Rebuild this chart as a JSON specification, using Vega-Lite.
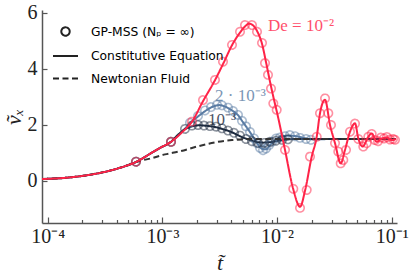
{
"$schema": "https://vega.github.io/schema/vega-lite/v6.json",
"width": 355, "height": 213, "autosize": "none",
"padding": {"left": 42, "top": 10, "right": 19, "bottom": 53},
"background": "white",
"config": {
  "view": {"stroke": null},
  "axis": {"grid": false, "domainColor": "#555", "domainWidth": 1.5, "tickColor": "#555", "tickWidth": 1.2,
           "labelFont": "Liberation Serif", "labelFontSize": 20, "labelColor": "#222",
           "titleFont": "Liberation Serif", "titleFontStyle": "italic", "titleFontWeight": "normal", "titleFontSize": 22, "titleColor": "#222"}
},
"datasets": {
  "lines": [
    {"series": "1e-2", "t": 8.92e-5, "v": 0.07}, {"series": "1e-2", "t": 1.28e-4, "v": 0.10}, {"series": "1e-2", "t": 1.912e-4, "v": 0.17},
    {"series": "1e-2", "t": 2.858e-4, "v": 0.29}, {"series": "1e-2", "t": 3.862e-4, "v": 0.42}, {"series": "1e-2", "t": 4.72e-4, "v": 0.53},
    {"series": "1e-2", "t": 5.886e-4, "v": 0.68}, {"series": "1e-2", "t": 7.8e-4, "v": 0.97}, {"series": "1e-2", "t": 9.53e-4, "v": 1.18},
    {"series": "1e-2", "t": 1.189e-3, "v": 1.40}, {"series": "1e-2", "t": 1.482e-3, "v": 1.74}, {"series": "1e-2", "t": 1.812e-3, "v": 2.12},
    {"series": "1e-2", "t": 2.259e-3, "v": 2.85}, {"series": "1e-2", "t": 2.874e-3, "v": 3.6}, {"series": "1e-2", "t": 3.444e-3, "v": 4.25},
    {"series": "1e-2", "t": 4.044e-3, "v": 4.85}, {"series": "1e-2", "t": 4.75e-3, "v": 5.3}, {"series": "1e-2", "t": 5.25e-3, "v": 5.52},
    {"series": "1e-2", "t": 5.69e-3, "v": 5.62}, {"series": "1e-2", "t": 6.165e-3, "v": 5.56}, {"series": "1e-2", "t": 6.68e-3, "v": 5.36},
    {"series": "1e-2", "t": 7.387e-3, "v": 4.9}, {"series": "1e-2", "t": 8.0e-3, "v": 4.25}, {"series": "1e-2", "t": 8.67e-3, "v": 3.55},
    {"series": "1e-2", "t": 9.4e-3, "v": 2.9}, {"series": "1e-2", "t": 9.98e-3, "v": 2.45}, {"series": "1e-2", "t": 1.172e-2, "v": 1.11},
    {"series": "1e-2", "t": 1.376e-2, "v": -0.26}, {"series": "1e-2", "t": 1.587e-2, "v": -0.92}, {"series": "1e-2", "t": 1.751e-2, "v": -0.35},
    {"series": "1e-2", "t": 2.003e-2, "v": 0.87}, {"series": "1e-2", "t": 2.215e-2, "v": 1.58}, {"series": "1e-2", "t": 2.366e-2, "v": 2.42},
    {"series": "1e-2", "t": 2.617e-2, "v": 2.9}, {"series": "1e-2", "t": 2.893e-2, "v": 2.0}, {"series": "1e-2", "t": 3.198e-2, "v": 1.35},
    {"series": "1e-2", "t": 3.585e-2, "v": 0.63}, {"series": "1e-2", "t": 3.908e-2, "v": 1.11}, {"series": "1e-2", "t": 4.321e-2, "v": 1.76},
    {"series": "1e-2", "t": 4.777e-2, "v": 2.06}, {"series": "1e-2", "t": 5.105e-2, "v": 1.52}, {"series": "1e-2", "t": 5.576e-2, "v": 1.23},
    {"series": "1e-2", "t": 6.24e-2, "v": 1.58}, {"series": "1e-2", "t": 6.68e-2, "v": 1.70}, {"series": "1e-2", "t": 7.387e-2, "v": 1.40},
    {"series": "1e-2", "t": 8.17e-2, "v": 1.52}, {"series": "1e-2", "t": 9.03e-2, "v": 1.55}, {"series": "1e-2", "t": 9.98e-2, "v": 1.46},
    {"series": "1e-2", "t": 0.1088, "v": 1.50},

    {"series": "2e-3", "t": 8.92e-5, "v": 0.07}, {"series": "2e-3", "t": 1.28e-4, "v": 0.10}, {"series": "2e-3", "t": 1.912e-4, "v": 0.17},
    {"series": "2e-3", "t": 2.858e-4, "v": 0.29}, {"series": "2e-3", "t": 3.862e-4, "v": 0.42}, {"series": "2e-3", "t": 4.72e-4, "v": 0.53},
    {"series": "2e-3", "t": 5.886e-4, "v": 0.68}, {"series": "2e-3", "t": 7.8e-4, "v": 0.97}, {"series": "2e-3", "t": 9.53e-4, "v": 1.18},
    {"series": "2e-3", "t": 1.189e-3, "v": 1.40}, {"series": "2e-3", "t": 1.423e-3, "v": 1.68}, {"series": "2e-3", "t": 1.74e-3, "v": 2.06},
    {"series": "2e-3", "t": 2.127e-3, "v": 2.36}, {"series": "2e-3", "t": 2.448e-3, "v": 2.54}, {"series": "2e-3", "t": 2.761e-3, "v": 2.66},
    {"series": "2e-3", "t": 3.115e-3, "v": 2.71}, {"series": "2e-3", "t": 3.514e-3, "v": 2.66}, {"series": "2e-3", "t": 4.044e-3, "v": 2.52},
    {"series": "2e-3", "t": 4.562e-3, "v": 2.35}, {"series": "2e-3", "t": 5.043e-3, "v": 2.10}, {"series": "2e-3", "t": 5.575e-3, "v": 1.85},
    {"series": "2e-3", "t": 6.165e-3, "v": 1.58}, {"series": "2e-3", "t": 6.815e-3, "v": 1.30}, {"series": "2e-3", "t": 7.387e-3, "v": 1.15},
    {"series": "2e-3", "t": 8.0e-3, "v": 1.13}, {"series": "2e-3", "t": 8.67e-3, "v": 1.28}, {"series": "2e-3", "t": 9.587e-3, "v": 1.46},
    {"series": "2e-3", "t": 1.081e-2, "v": 1.57}, {"series": "2e-3", "t": 1.245e-2, "v": 1.62}, {"series": "2e-3", "t": 1.462e-2, "v": 1.60},
    {"series": "2e-3", "t": 1.751e-2, "v": 1.53}, {"series": "2e-3", "t": 2.14e-2, "v": 1.48}, {"series": "2e-3", "t": 2.893e-2, "v": 1.50},
    {"series": "2e-3", "t": 0.1088, "v": 1.50},

    {"series": "1e-3", "t": 8.92e-5, "v": 0.07}, {"series": "1e-3", "t": 1.28e-4, "v": 0.10}, {"series": "1e-3", "t": 1.912e-4, "v": 0.17},
    {"series": "1e-3", "t": 2.858e-4, "v": 0.29}, {"series": "1e-3", "t": 3.862e-4, "v": 0.42}, {"series": "1e-3", "t": 4.72e-4, "v": 0.53},
    {"series": "1e-3", "t": 5.886e-4, "v": 0.68}, {"series": "1e-3", "t": 7.8e-4, "v": 0.97}, {"series": "1e-3", "t": 9.53e-4, "v": 1.18},
    {"series": "1e-3", "t": 1.189e-3, "v": 1.40}, {"series": "1e-3", "t": 1.368e-3, "v": 1.65}, {"series": "1e-3", "t": 1.574e-3, "v": 1.85},
    {"series": "1e-3", "t": 1.812e-3, "v": 1.95}, {"series": "1e-3", "t": 2.085e-3, "v": 1.99}, {"series": "1e-3", "t": 2.448e-3, "v": 1.97},
    {"series": "1e-3", "t": 2.874e-3, "v": 1.93}, {"series": "1e-3", "t": 3.376e-3, "v": 1.85}, {"series": "1e-3", "t": 4.044e-3, "v": 1.74},
    {"series": "1e-3", "t": 4.75e-3, "v": 1.60}, {"series": "1e-3", "t": 5.464e-3, "v": 1.50}, {"series": "1e-3", "t": 6.417e-3, "v": 1.41},
    {"series": "1e-3", "t": 7.535e-3, "v": 1.37}, {"series": "1e-3", "t": 9.027e-3, "v": 1.40}, {"series": "1e-3", "t": 1.103e-2, "v": 1.46},
    {"series": "1e-3", "t": 1.432e-2, "v": 1.50}, {"series": "1e-3", "t": 0.1088, "v": 1.50}
  ],
  "newt": [
    {"t": 8.92e-5, "v": 0.07}, {"t": 1.28e-4, "v": 0.10}, {"t": 1.912e-4, "v": 0.17}, {"t": 2.858e-4, "v": 0.29},
    {"t": 3.862e-4, "v": 0.42}, {"t": 4.72e-4, "v": 0.53}, {"t": 5.886e-4, "v": 0.68}, {"t": 7.8e-4, "v": 0.80},
    {"t": 1.054e-3, "v": 0.95}, {"t": 1.423e-3, "v": 1.06}, {"t": 2.044e-3, "v": 1.24}, {"t": 2.874e-3, "v": 1.38},
    {"t": 4.044e-3, "v": 1.46}, {"t": 5.8e-3, "v": 1.50}, {"t": 0.1088, "v": 1.50}
  ],
  "markers": [
    {"series": "1e-2", "t": 5.886e-4, "v": 0.69}, {"series": "1e-2", "t": 1.189e-3, "v": 1.40}, {"series": "1e-2", "t": 1.812e-3, "v": 2.12},
    {"series": "1e-2", "t": 2.259e-3, "v": 2.89}, {"series": "1e-2", "t": 2.874e-3, "v": 3.61}, {"series": "1e-2", "t": 3.376e-3, "v": 4.26},
    {"series": "1e-2", "t": 4.044e-3, "v": 4.86}, {"series": "1e-2", "t": 4.75e-3, "v": 5.33}, {"series": "1e-2", "t": 5.25e-3, "v": 5.57},
    {"series": "1e-2", "t": 6.04e-3, "v": 5.57}, {"series": "1e-2", "t": 6.68e-3, "v": 5.33}, {"series": "1e-2", "t": 7.387e-3, "v": 4.93},
    {"series": "1e-2", "t": 7.845e-3, "v": 4.21}, {"series": "1e-2", "t": 8.33e-3, "v": 3.79}, {"series": "1e-2", "t": 8.848e-3, "v": 3.3},
    {"series": "1e-2", "t": 9.267e-3, "v": 2.77}, {"series": "1e-2", "t": 9.92e-3, "v": 2.54}, {"series": "1e-2", "t": 1.172e-2, "v": 1.11},
    {"series": "1e-2", "t": 1.384e-2, "v": -0.28}, {"series": "1e-2", "t": 1.584e-2, "v": -0.96}, {"series": "1e-2", "t": 1.812e-2, "v": -0.32},
    {"series": "1e-2", "t": 1.936e-2, "v": 0.87}, {"series": "1e-2", "t": 2.215e-2, "v": 1.58}, {"series": "1e-2", "t": 2.366e-2, "v": 2.42},
    {"series": "1e-2", "t": 2.617e-2, "v": 2.95}, {"series": "1e-2", "t": 2.795e-2, "v": 2.42}, {"series": "1e-2", "t": 2.95e-2, "v": 2.0},
    {"series": "1e-2", "t": 3.198e-2, "v": 1.35}, {"series": "1e-2", "t": 3.416e-2, "v": 1.05}, {"series": "1e-2", "t": 3.585e-2, "v": 0.63},
    {"series": "1e-2", "t": 3.777e-2, "v": 0.75}, {"series": "1e-2", "t": 3.987e-2, "v": 1.11}, {"series": "1e-2", "t": 4.321e-2, "v": 1.76},
    {"series": "1e-2", "t": 4.777e-2, "v": 2.05}, {"series": "1e-2", "t": 5.105e-2, "v": 1.5}, {"series": "1e-2", "t": 5.643e-2, "v": 1.23},
    {"series": "1e-2", "t": 6.04e-2, "v": 1.35}, {"series": "1e-2", "t": 6.24e-2, "v": 1.58}, {"series": "1e-2", "t": 6.68e-2, "v": 1.68},
    {"series": "1e-2", "t": 7.136e-2, "v": 1.46}, {"series": "1e-2", "t": 7.58e-2, "v": 1.42}, {"series": "1e-2", "t": 8.05e-2, "v": 1.55},
    {"series": "1e-2", "t": 8.551e-2, "v": 1.52}, {"series": "1e-2", "t": 9.08e-2, "v": 1.57}, {"series": "1e-2", "t": 9.645e-2, "v": 1.48},
    {"series": "1e-2", "t": 0.1024, "v": 1.50}, {"series": "1e-2", "t": 0.1066, "v": 1.47},

    {"series": "2e-3", "t": 5.886e-4, "v": 0.69}, {"series": "2e-3", "t": 1.189e-3, "v": 1.40}, {"series": "2e-3", "t": 1.74e-3, "v": 2.08},
    {"series": "2e-3", "t": 2.044e-3, "v": 2.32}, {"series": "2e-3", "t": 2.351e-3, "v": 2.52}, {"series": "2e-3", "t": 2.652e-3, "v": 2.64},
    {"series": "2e-3", "t": 2.992e-3, "v": 2.72}, {"series": "2e-3", "t": 3.308e-3, "v": 2.70}, {"series": "2e-3", "t": 3.732e-3, "v": 2.62},
    {"series": "2e-3", "t": 4.126e-3, "v": 2.50}, {"series": "2e-3", "t": 4.562e-3, "v": 2.36}, {"series": "2e-3", "t": 4.943e-3, "v": 2.15},
    {"series": "2e-3", "t": 5.357e-3, "v": 1.95}, {"series": "2e-3", "t": 5.8e-3, "v": 1.75}, {"series": "2e-3", "t": 6.29e-3, "v": 1.52},
    {"series": "2e-3", "t": 6.68e-3, "v": 1.35}, {"series": "2e-3", "t": 7.095e-3, "v": 1.18}, {"series": "2e-3", "t": 7.535e-3, "v": 1.10},
    {"series": "2e-3", "t": 8.0e-3, "v": 1.16}, {"series": "2e-3", "t": 8.5e-3, "v": 1.28}, {"series": "2e-3", "t": 9.027e-3, "v": 1.40},
    {"series": "2e-3", "t": 9.78e-3, "v": 1.52}, {"series": "2e-3", "t": 1.06e-2, "v": 1.55}, {"series": "2e-3", "t": 1.172e-2, "v": 1.60},
    {"series": "2e-3", "t": 1.293e-2, "v": 1.64}, {"series": "2e-3", "t": 1.432e-2, "v": 1.60}, {"series": "2e-3", "t": 1.584e-2, "v": 1.54},
    {"series": "2e-3", "t": 1.788e-2, "v": 1.50}, {"series": "2e-3", "t": 1.975e-2, "v": 1.47},

    {"series": "1e-3", "t": 5.886e-4, "v": 0.69}, {"series": "1e-3", "t": 1.189e-3, "v": 1.40}, {"series": "1e-3", "t": 1.574e-3, "v": 1.86},
    {"series": "1e-3", "t": 1.812e-3, "v": 1.98}, {"series": "1e-3", "t": 2.044e-3, "v": 2.0}, {"series": "1e-3", "t": 2.305e-3, "v": 1.98},
    {"series": "1e-3", "t": 2.6e-3, "v": 1.96}, {"series": "1e-3", "t": 2.933e-3, "v": 1.94}, {"series": "1e-3", "t": 3.308e-3, "v": 1.88},
    {"series": "1e-3", "t": 3.732e-3, "v": 1.80}, {"series": "1e-3", "t": 4.209e-3, "v": 1.72}, {"series": "1e-3", "t": 4.75e-3, "v": 1.62},
    {"series": "1e-3", "t": 5.357e-3, "v": 1.50}, {"series": "1e-3", "t": 6.04e-3, "v": 1.42}, {"series": "1e-3", "t": 6.815e-3, "v": 1.36},
    {"series": "1e-3", "t": 7.69e-3, "v": 1.36}, {"series": "1e-3", "t": 8.67e-3, "v": 1.40}, {"series": "1e-3", "t": 9.78e-3, "v": 1.44},
    {"series": "1e-3", "t": 1.103e-2, "v": 1.47}, {"series": "1e-3", "t": 1.245e-2, "v": 1.49}
  ],
  "labels": [
    {"series": "1e-2", "label": "De = 10⁻²", "t": 8.33e-3, "v": 5.54},
    {"series": "2e-3", "label": "2 · 10⁻³", "t": 2.874e-3, "v": 3.04},
    {"series": "1e-3", "label": "10⁻³", "t": 2.498e-3, "v": 2.18}
  ]
},
"encoding": {
  "x": {"field": "t", "type": "quantitative",
        "scale": {"type": "log", "domain": [8.92e-5, 0.111], "nice": false},
        "axis": {"title": "t̃", "titlePadding": 4,
                 "values": [0.0001,0.0002,0.0003,0.0004,0.0005,0.0006,0.0007,0.0008,0.0009,0.001,0.002,0.003,0.004,0.005,0.006,0.007,0.008,0.009,0.01,0.02,0.03,0.04,0.05,0.06,0.07,0.08,0.09,0.1],
                 "labelExpr": "abs(log(datum.value)/LN10 - round(log(datum.value)/LN10)) < 0.001 ? ['10⁻⁴','10⁻³','10⁻²','10⁻¹'][round(log(datum.value)/LN10)+4] : ''",
                 "labelOverlap": false, "labelFlush": false, "labelPadding": 9,
                 "tickSize": {"condition": {"test": "abs(log(datum.value)/LN10 - round(log(datum.value)/LN10)) < 0.001", "value": -6}, "value": -3.5}}},
  "y": {"field": "v", "type": "quantitative",
        "scale": {"domain": [-1.5, 6.107], "nice": false, "zero": false},
        "axis": {"title": "ṽₓ", "values": [0, 2, 4, 6], "tickSize": -5, "labelPadding": 10, "titlePadding": 2}},
  "color": {"field": "series", "type": "nominal", "legend": null,
            "scale": {"domain": ["1e-3", "2e-3", "1e-2"], "range": ["#1c2a3f", "#5a7ca4", "#ff2347"]}}
},
"layer": [
  {"data": {"name": "lines"}, "transform": [{"filter": "datum.series != '1e-2'"}],
   "mark": {"type": "line", "strokeWidth": 2, "interpolate": "monotone"},
   "encoding": {"strokeDash": {"datum": "Constitutive Equation", "type": "nominal",
      "scale": {"domain": ["GP-MSS (Nₚ = ∞)", "Constitutive Equation", "Newtonian Fluid"], "range": [[1, 0], [1, 0], [6, 3.5]]},
      "legend": {"title": null, "orient": "none", "legendX": 10, "legendY": 8,
                 "labelFont": "DejaVu Sans", "labelFontSize": 12.3, "labelColor": "#000",
                 "symbolStrokeColor": "#222", "symbolStrokeWidth": 2, "symbolSize": 625, "symbolType": "stroke",
                 "rowPadding": 2.5, "labelOffset": 12,
                 "encode": {"symbols": {"update": {
                    "shape": {"signal": "datum.value == 'GP-MSS (Nₚ = ∞)' ? 'circle' : 'stroke'"},
                    "size": {"signal": "datum.value == 'GP-MSS (Nₚ = ∞)' ? 70 : 625"},
                    "stroke": {"value": "#222"}, "fill": {"value": "transparent"}}}}}}}},
  {"data": {"name": "markers"}, "transform": [{"filter": "datum.series != '1e-2'"}],
   "mark": {"type": "point", "filled": false, "shape": "circle", "size": 70, "strokeWidth": 1.6, "opacity": 0.5},
   "encoding": {"strokeDash": {"datum": "GP-MSS (Nₚ = ∞)", "type": "nominal"}}},
  {"data": {"name": "newt"},
   "mark": {"type": "line", "strokeWidth": 2, "color": "#333", "interpolate": "monotone"},
   "encoding": {"color": {"value": "#333"}, "strokeDash": {"datum": "Newtonian Fluid", "type": "nominal"}}},
  {"data": {"name": "markers"}, "transform": [{"filter": "datum.series == '1e-2'"}],
   "mark": {"type": "point", "filled": false, "shape": "circle", "size": 70, "strokeWidth": 1.6, "opacity": 0.5},
   "encoding": {"strokeDash": {"datum": "GP-MSS (Nₚ = ∞)", "type": "nominal"}}},
  {"data": {"name": "lines"}, "transform": [{"filter": "datum.series == '1e-2'"}],
   "mark": {"type": "line", "strokeWidth": 2, "interpolate": "monotone"},
   "encoding": {"strokeDash": {"datum": "Constitutive Equation", "type": "nominal"}}},
  {"data": {"name": "labels"},
   "mark": {"type": "text", "align": "left", "baseline": "middle", "font": "Liberation Serif", "fontSize": 17, "opacity": 0.8},
   "encoding": {"text": {"field": "label"}}}
]
}
